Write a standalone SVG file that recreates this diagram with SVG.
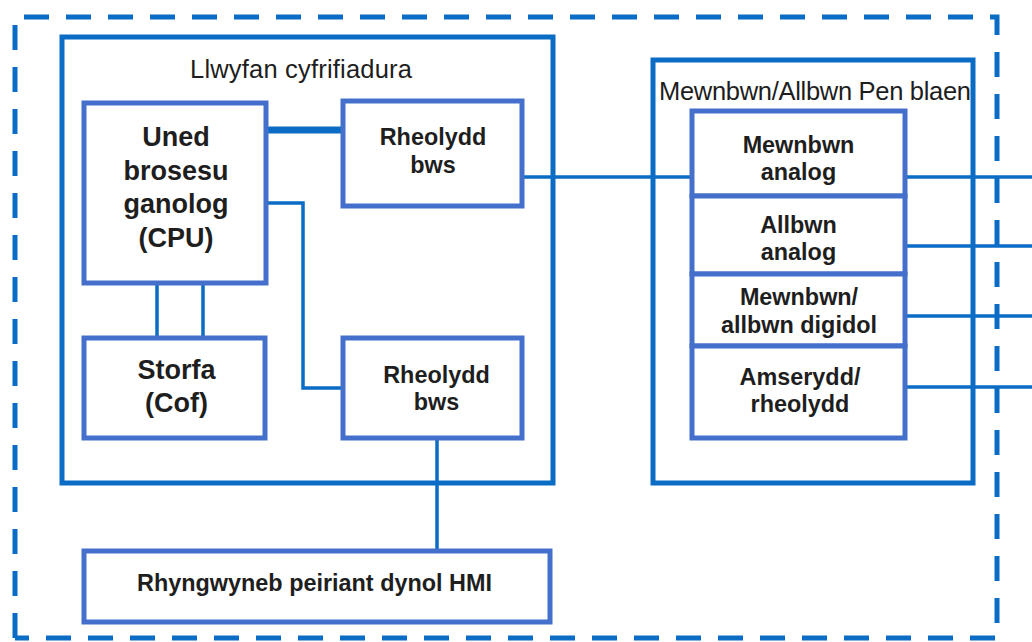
<svg xmlns="http://www.w3.org/2000/svg" width="1032" height="642" viewBox="0 0 1032 642">
  <style>
    .frame { fill: none; stroke: #0a6cc4; stroke-width: 5; }
    .dash { fill: none; stroke: #0a6cc4; stroke-width: 5; stroke-dasharray: 25 17; }
    .box { fill: #ffffff; stroke: #4470cc; stroke-width: 5; }
    .wire { fill: none; stroke: #0a6cc4; stroke-width: 3.5; }
    text { font-family: "Liberation Sans", Arial, sans-serif; fill: #1e1e1e; text-anchor: middle; }
    .title { font-size: 25.5px; }
    .lbl { font-size: 23.4px; font-weight: bold; }
    .big { font-size: 27px; font-weight: bold; }
  </style>
  <rect width="1032" height="642" fill="#ffffff"/>

  <!-- system boundary -->
  <g id="boundary">
    <path class="dash" d="M15 638 V17 H997 V638 H15"/>
  </g>

  <!-- connectors -->
  <g id="connectors">
    <line x1="266" y1="130" x2="343" y2="130" stroke="#0a6cc4" stroke-width="7"/>
    <path class="wire" d="M266 203 H303 V388 H343"/>
    <line class="wire" x1="157" y1="283" x2="157" y2="338"/>
    <line class="wire" x1="203" y1="283" x2="203" y2="338"/>
    <line class="wire" x1="437" y1="438" x2="437" y2="551"/>
    <line class="wire" x1="522" y1="177" x2="692" y2="177"/>
    <line class="wire" x1="905" y1="177" x2="1032" y2="177"/>
    <line class="wire" x1="905" y1="246" x2="1032" y2="246"/>
    <line class="wire" x1="905" y1="316" x2="1032" y2="316"/>
    <line class="wire" x1="905" y1="387" x2="1032" y2="387"/>
  </g>

  <!-- computing platform -->
  <g id="platform">
    <rect class="frame" x="62" y="37" width="491" height="446"/>
    <text class="title" x="301" y="78" textLength="222" lengthAdjust="spacing">Llwyfan cyfrifiadura</text>
  </g>

  <g id="cpu">
    <rect class="box" x="84" y="103" width="182" height="180"/>
    <text class="big" x="176" y="146">Uned</text>
    <text class="big" x="176" y="179.5">brosesu</text>
    <text class="big" x="176" y="213">ganolog</text>
    <text class="big" x="176" y="246.5">(CPU)</text>
  </g>

  <g id="bus-controller-1">
    <rect class="box" x="343" y="101" width="179" height="105"/>
    <text class="lbl" x="433" y="145">Rheolydd</text>
    <text class="lbl" x="433" y="173">bws</text>
  </g>

  <g id="memory">
    <rect class="box" x="84" y="338" width="181" height="100"/>
    <text class="big" x="176.5" y="379">Storfa</text>
    <text class="big" x="176.5" y="412">(Cof)</text>
  </g>

  <g id="bus-controller-2">
    <rect class="box" x="343" y="338" width="179" height="100"/>
    <text class="lbl" x="436.5" y="383">Rheolydd</text>
    <text class="lbl" x="436.5" y="410">bws</text>
  </g>

  <g id="hmi">
    <rect class="box" x="84" y="551" width="466" height="71"/>
    <text class="lbl" x="314.5" y="591">Rhyngwyneb peiriant dynol HMI</text>
  </g>

  <!-- front-end I/O -->
  <g id="front-end">
    <rect class="frame" x="653" y="60" width="320" height="423"/>
    <text class="title" x="815" y="100" textLength="312" lengthAdjust="spacing">Mewnbwn/Allbwn Pen blaen</text>
  </g>

  <g id="analog-in">
    <rect class="box" x="692" y="111" width="213" height="85"/>
    <text class="lbl" x="798.5" y="153">Mewnbwn</text>
    <text class="lbl" x="798.5" y="180">analog</text>
  </g>

  <g id="analog-out">
    <rect class="box" x="692" y="196" width="213" height="78"/>
    <text class="lbl" x="798.5" y="233">Allbwn</text>
    <text class="lbl" x="798.5" y="260">analog</text>
  </g>

  <g id="digital-io">
    <rect class="box" x="692" y="274" width="213" height="72"/>
    <text class="lbl" x="799" y="305">Mewnbwn/</text>
    <text class="lbl" x="799" y="333">allbwn digidol</text>
  </g>

  <g id="timer">
    <rect class="box" x="692" y="346" width="213" height="92"/>
    <text class="lbl" x="800" y="385">Amserydd/</text>
    <text class="lbl" x="800" y="412">rheolydd</text>
  </g>
</svg>
